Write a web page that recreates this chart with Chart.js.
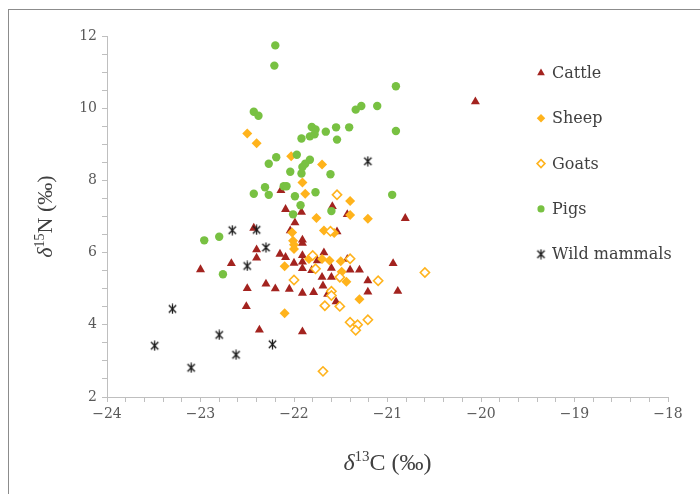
<!DOCTYPE html>
<html>
<head>
<meta charset="utf-8">
<script src="https://cdn.jsdelivr.net/npm/chart.js@4.4.1/dist/chart.umd.min.js"></script>
<style>
  body { margin: 0; background: #fff; }
  #wrap { width: 700px; height: 494px; }
</style>
</head>
<body>
<div id="wrap"><canvas id="isoChart" width="700" height="494"></canvas></div>
<script>
// [δ13C, δ15N] per specimen
const cattle = [
  [-20.06, 10.18], [-22.14, 7.72], [-22.09, 7.20], [-21.92, 7.12], [-21.59, 7.28],
  [-21.43, 7.06], [-20.81, 6.95], [-21.99, 6.83], [-22.43, 6.68], [-22.04, 6.61],
  [-21.54, 6.58], [-21.91, 6.35], [-21.91, 6.26], [-22.40, 6.08], [-22.40, 5.85],
  [-22.15, 5.96], [-22.09, 5.87], [-22.00, 5.71], [-21.91, 5.92], [-21.91, 5.74],
  [-21.91, 5.56], [-21.68, 6.00], [-21.75, 5.78], [-21.43, 5.82], [-22.67, 5.70],
  [-23.00, 5.53], [-21.81, 5.51], [-21.60, 5.57], [-21.40, 5.52], [-21.30, 5.52],
  [-20.94, 5.70], [-21.70, 5.32], [-21.60, 5.32], [-21.21, 5.22], [-22.50, 5.01],
  [-22.30, 5.13], [-22.20, 5.00], [-22.05, 4.99], [-21.91, 4.88], [-21.79, 4.90],
  [-21.69, 5.08], [-21.64, 4.85], [-21.21, 4.91], [-20.89, 4.93], [-21.55, 4.64],
  [-22.51, 4.51], [-22.37, 3.86], [-21.91, 3.81]
];
const sheep = [
  [-22.50, 9.30], [-22.40, 9.03], [-22.03, 8.67], [-21.70, 8.44], [-21.91, 7.94],
  [-21.88, 7.63], [-21.40, 7.43], [-21.76, 6.96], [-21.40, 7.04], [-21.21, 6.94],
  [-22.02, 6.56], [-21.68, 6.61], [-21.57, 6.54], [-22.01, 6.33], [-22.00, 6.22],
  [-22.00, 6.10], [-21.84, 5.82], [-21.70, 5.82], [-21.62, 5.78], [-21.50, 5.76],
  [-22.10, 5.62], [-21.49, 5.47], [-21.44, 5.19], [-21.30, 4.71], [-22.10, 4.32]
];
const goats = [
  [-21.54, 7.60], [-21.61, 6.59], [-21.80, 5.92], [-21.40, 5.83], [-21.77, 5.55],
  [-21.51, 5.32], [-22.00, 5.24], [-21.10, 5.22], [-21.60, 4.93], [-21.60, 4.81],
  [-21.67, 4.53], [-21.51, 4.51], [-21.40, 4.07], [-21.32, 4.00], [-21.34, 3.85],
  [-21.21, 4.14], [-21.69, 2.71], [-20.60, 5.45]
];
const pigs = [
  [-22.20, 11.74], [-22.21, 11.18], [-22.43, 9.90], [-22.38, 9.79], [-21.92, 9.16],
  [-21.83, 9.22], [-21.81, 9.48], [-21.77, 9.41], [-21.78, 9.28], [-21.66, 9.35],
  [-21.55, 9.47], [-21.41, 9.47], [-21.54, 9.13], [-21.34, 9.96], [-21.28, 10.06],
  [-21.11, 10.06], [-20.91, 10.61], [-20.91, 9.37], [-22.19, 8.64], [-22.27, 8.46],
  [-21.97, 8.71], [-21.83, 8.57], [-21.88, 8.46], [-21.91, 8.37], [-21.92, 8.19],
  [-22.04, 8.24], [-21.61, 8.17], [-22.31, 7.81], [-22.43, 7.63], [-22.27, 7.60],
  [-22.11, 7.84], [-22.08, 7.84], [-21.99, 7.56], [-21.77, 7.67], [-20.95, 7.60],
  [-21.93, 7.31], [-21.60, 7.15], [-22.01, 7.06], [-22.96, 6.34], [-22.80, 6.44],
  [-22.76, 5.40]
];
const wildMammals = [
  [-23.49, 3.42], [-23.30, 4.44], [-23.10, 2.81], [-22.80, 3.72], [-22.62, 3.17],
  [-22.50, 5.63], [-22.23, 3.46], [-22.66, 6.62], [-22.40, 6.63], [-22.30, 6.14],
  [-21.21, 8.53]
];

const seriesNames = ['Cattle', 'Sheep', 'Goats', 'Pigs', 'Wild mammals'];
const xLimits = [-24, -18];   // δ13C axis, labels every 1, minor ticks every 0.2
const yLimits = [2, 12];      // δ15N axis, labels every 2, minor ticks every 0.5

const textColor = '#404040';
const axisColor = '#bfbfbf';

// Excel-style asterisk marker (X with a vertical bar)
function asteriskMarker() {
  const c = document.createElement('canvas');
  c.width = 11; c.height = 11;
  const g = c.getContext('2d');
  g.strokeStyle = '#1a1a1a';
  g.lineWidth = 1.3;
  g.beginPath();
  g.moveTo(1.8, 1.8); g.lineTo(9.2, 9.2);
  g.moveTo(9.2, 1.8); g.lineTo(1.8, 9.2);
  g.moveTo(5.5, 0.5); g.lineTo(5.5, 10.5);
  g.stroke();
  return c;
}
const starImg = asteriskMarker();

const toPts = arr => arr.map(p => ({ x: p[0], y: p[1] }));

const datasets = [
  { label: seriesNames[0], data: toPts(cattle), pointStyle: 'triangle', pointRadius: 5.2,
    backgroundColor: '#a3231f', borderColor: '#a3231f', borderWidth: 0, order: 5 },
  { label: seriesNames[1], data: toPts(sheep), pointStyle: 'rectRot', pointRadius: 5,
    backgroundColor: '#ffb31c', borderColor: '#ffb31c', borderWidth: 0, order: 4 },
  { label: seriesNames[2], data: toPts(goats), pointStyle: 'rectRot', pointRadius: 4.6,
    backgroundColor: '#ffffff', borderColor: '#ffb31c', borderWidth: 1.6, order: 3 },
  { label: seriesNames[3], data: toPts(pigs), pointStyle: 'circle', pointRadius: 4.2,
    backgroundColor: '#78c142', borderColor: '#78c142', borderWidth: 0, order: 2 },
  { label: seriesNames[4], data: toPts(wildMammals), pointStyle: starImg, pointRadius: 5,
    backgroundColor: '#1a1a1a', borderColor: '#1a1a1a', borderWidth: 0, order: 1 }
];

const isNear = (v, step) => Math.abs(v / step - Math.round(v / step)) < 1e-6;

// legend on the right, inside the plot, plus the frame
const sideLegend = {
  id: 'sideLegend',
  afterDraw(chart) {
    const ctx = chart.ctx;
    ctx.save();
    ctx.strokeStyle = '#8c8c8c';
    ctx.lineWidth = 1;
    ctx.strokeRect(8.5, 9.5, 700, 500);
    ctx.font = '16px "DejaVu Serif"';
    ctx.textBaseline = 'middle';
    const drawPoint = Chart.helpers && Chart.helpers.drawPoint;
    chart.data.datasets.forEach((ds, i) => {
      const y = 73 + i * 45.3;
      const x = 541;
      ctx.fillStyle = ds.backgroundColor;
      ctx.strokeStyle = ds.borderColor;
      ctx.lineWidth = ds.borderWidth;
      if (drawPoint) {
        drawPoint(ctx, { pointStyle: ds.pointStyle, radius: ds.pointRadius * 0.85,
          rotation: 0, borderWidth: ds.borderWidth }, x, y);
      }
      ctx.fillStyle = textColor;
      ctx.fillText(ds.label, 552, y + 1);
    });
    ctx.restore();
  }
};

// axis titles with superscript isotopes
function drawIso(ctx, parts, cx, cy, big, small) {
  ctx.textBaseline = 'alphabetic';
  const fonts = {
    d: 'italic ' + big + 'px "Liberation Serif"',
    s: small + 'px "Liberation Serif"',
    n: big + 'px "Liberation Serif"'
  };
  let w = 0;
  parts.forEach(p => { ctx.font = fonts[p[0]]; w += ctx.measureText(p[1]).width; });
  let x = cx - w / 2;
  parts.forEach(p => {
    ctx.font = fonts[p[0]];
    const dy = p[0] === 's' ? -big * 0.36 : 0;
    ctx.fillText(p[1], x, cy + dy);
    x += ctx.measureText(p[1]).width;
  });
}
const axisTitles = {
  id: 'axisTitles',
  afterDraw(chart) {
    const ctx = chart.ctx;
    const area = chart.chartArea;
    ctx.save();
    ctx.fillStyle = textColor;
    drawIso(ctx, [['d', 'δ'], ['s', '13'], ['n', 'C (‰)']], (area.left + area.right) / 2, 470, 24, 15);
    ctx.translate(52, (area.top + area.bottom) / 2);
    ctx.rotate(-Math.PI / 2);
    drawIso(ctx, [['d', 'δ'], ['s', '15'], ['n', 'N (‰)']], 0, 0, 22, 14);
    ctx.restore();
  }
};

new Chart(document.getElementById('isoChart'), {
  type: 'scatter',
  data: { datasets: datasets },
  options: {
    responsive: false,
    animation: false,
    layout: { padding: { left: 0, right: 32, top: 36, bottom: 0 } },
    plugins: { legend: { display: false }, tooltip: { enabled: false } },
    scales: {
      x: {
        type: 'linear',
        min: xLimits[0], max: xLimits[1],
        afterFit(scale) { scale.height = 97; },
        border: { color: axisColor, width: 1 },
        grid: { drawOnChartArea: false, drawTicks: true, tickLength: 5, color: axisColor },
        ticks: {
          stepSize: 0.2, autoSkip: false, maxRotation: 0, padding: 4,
          color: '#595959', font: { family: 'DejaVu Serif', size: 14 },
          callback: v => isNear(v, 1) ? String(Math.round(v)).replace('-', '−') : ''
        }
      },
      y: {
        type: 'linear',
        min: yLimits[0], max: yLimits[1],
        afterFit(scale) { scale.width = 107; },
        border: { color: axisColor, width: 1 },
        grid: { drawOnChartArea: false, drawTicks: true, tickLength: 5, color: axisColor },
        ticks: {
          stepSize: 0.5, autoSkip: false, padding: 5,
          color: '#595959', font: { family: 'DejaVu Serif', size: 14 },
          callback: v => isNear(v, 2) ? String(Math.round(v)) : ''
        }
      }
    }
  },
  plugins: [sideLegend, axisTitles]
});
</script>
</body>
</html>
